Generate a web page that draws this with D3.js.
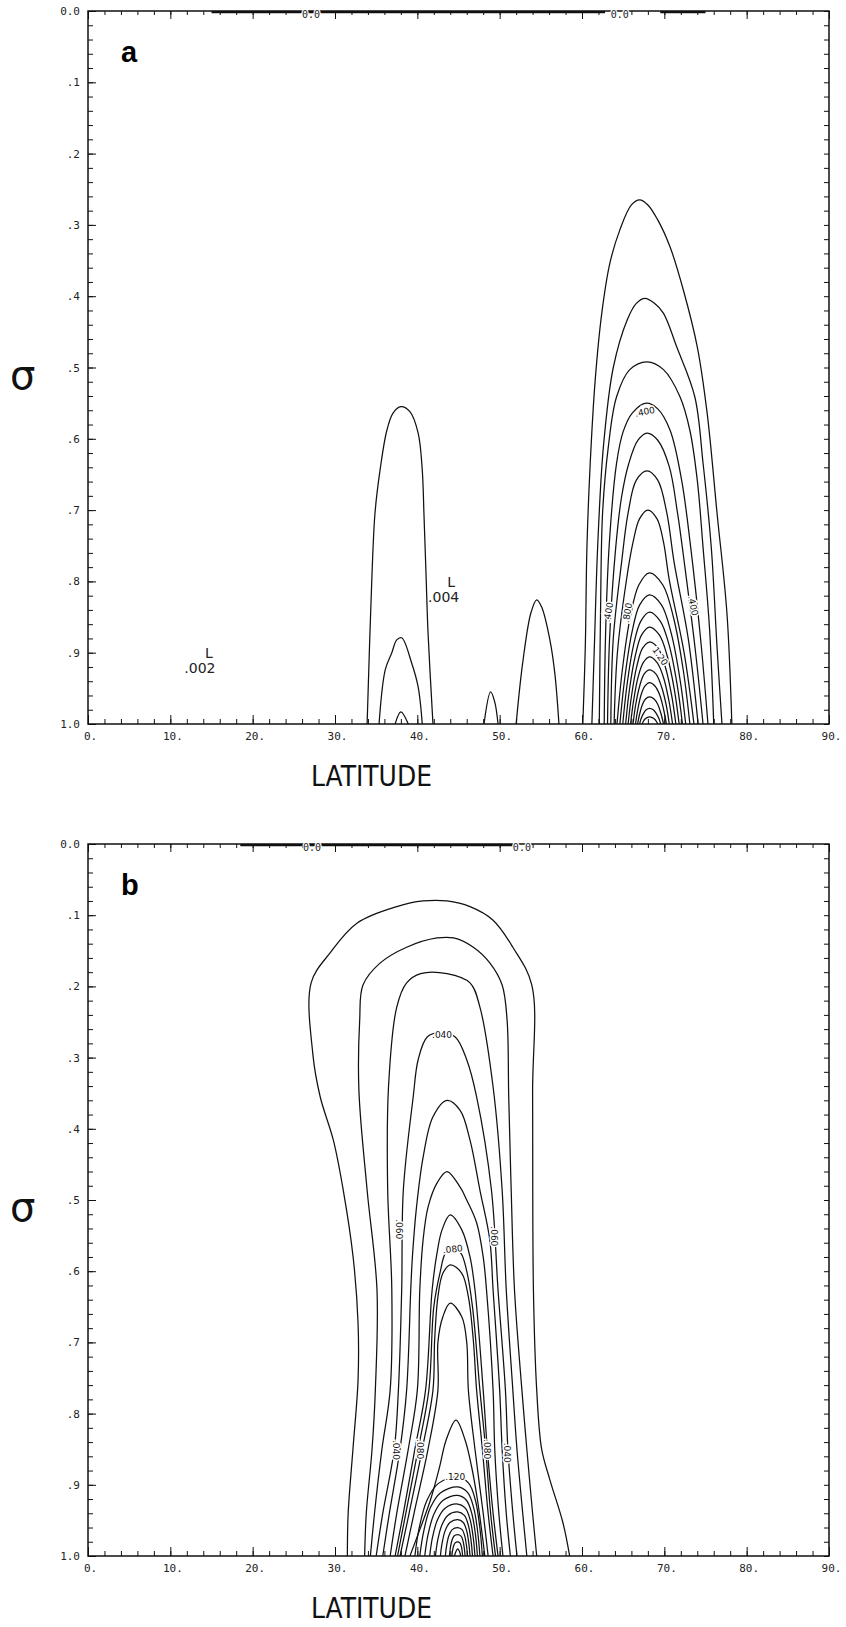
<!DOCTYPE html>
<html><head><meta charset="utf-8">
<script src="https://cdn.jsdelivr.net/npm/d3@7"></script>
<style>body{margin:0;background:#fff}svg{display:block}</style>
</head><body>
<script>
// ---------- axis data ----------
const latMajor = [0,10,20,30,40,50,60,70,80,90];
const latLabels = ["0.","10.","20.","30.","40.","50.","60.","70.","80.","90."];
const sigmaMajor = [0,0.1,0.2,0.3,0.4,0.5,0.6,0.7,0.8,0.9,1.0];
const sigmaLabels = ["0.0",".1",".2",".3",".4",".5",".6",".7",".8",".9","1.0"];
const latMinorStep = 2, sigmaMinorStep = 0.02;

// ---------- panel a contours: [latitude, sigma] ----------
const aBump38 = [
  [[33.9,1.0],[34.5,0.788],[34.86,0.704],[35.47,0.644],[36.3,0.588],[37.05,0.564],[38.0,0.555],[39.1,0.562],[40.1,0.592],[40.6,0.644],[40.8,0.704],[41.05,0.788],[41.3,0.872],[41.9,1.0]],
  [[35.35,1.0],[36.1,0.924],[36.9,0.9],[37.5,0.882],[38.1,0.879],[39.3,0.914],[40.1,0.948],[40.6,1.0]],
  [[37.3,1.0],[38.0,0.983],[38.9,1.0]]
];
const aBump49 = [
  [[48.1,1.0],[48.9,0.955],[49.4,0.969],[49.8,1.0]]
];
const aBump55 = [
  [[52.0,1.0],[52.8,0.914],[53.8,0.844],[54.5,0.826],[55.1,0.836],[56.1,0.882],[56.7,0.929],[57.2,1.0]]
];
const aBump68 = [
  [[60.1,1.0],[60.4,0.892],[60.6,0.752],[61.0,0.634],[61.6,0.518],[62.4,0.424],[63.4,0.353],[64.6,0.307],[66.0,0.272],[67.0,0.265],[68.0,0.272],[69.2,0.293],[70.7,0.331],[72.3,0.391],[74.0,0.471],[75.2,0.564],[76.4,0.704],[77.6,0.844],[78.2,1.0]],
  [[61.2,1.0],[61.5,0.892],[61.9,0.752],[62.6,0.611],[63.8,0.5],[65.5,0.433],[66.6,0.41],[67.65,0.403],[68.8,0.41],[69.9,0.424],[71.5,0.471],[73.7,0.541],[74.7,0.634],[75.7,0.752],[76.4,0.892],[77.0,1.0]],
  [[62.1,1.0],[62.25,0.844],[62.5,0.704],[63.2,0.611],[64.2,0.541],[65.8,0.503],[67.9,0.492],[69.9,0.503],[71.9,0.541],[73.1,0.588],[74.0,0.658],[74.7,0.752],[75.5,0.868],[76.0,1.0]],
  [[62.7,1.0],[62.85,0.88],[63.3,0.75],[64.2,0.634],[65.0,0.59],[66.1,0.564],[67.8,0.55],[69.2,0.558],[70.7,0.588],[72.1,0.658],[73.2,0.752],[74.4,0.88],[75.3,1.0]],
  [[63.1,1.0],[63.35,0.88],[64.1,0.752],[64.8,0.682],[65.7,0.634],[66.8,0.602],[67.9,0.592],[69.2,0.602],[70.6,0.639],[71.6,0.704],[72.5,0.78],[73.8,0.9],[74.7,1.0]],
  [[63.5,1.0],[63.8,0.88],[64.8,0.774],[65.6,0.704],[66.6,0.658],[67.9,0.645],[69.2,0.658],[70.3,0.704],[71.2,0.774],[72.9,0.88],[74.1,1.0]],
  [[63.9,1.0],[64.3,0.9],[65.4,0.798],[66.2,0.745],[67.0,0.712],[68.0,0.70],[69.1,0.712],[69.9,0.745],[70.6,0.798],[72.4,0.9],[73.6,1.0]],
  [[64.25,1.0],[64.88,0.926],[65.83,0.852],[66.9,0.805],[68.2,0.788],[69.82,0.805],[71.14,0.852],[72.32,0.926],[73.1,1.0]],
  [[64.6,1.0],[65.18,0.937],[66.04,0.873],[67.01,0.833],[68.2,0.819],[69.65,0.833],[70.84,0.873],[71.9,0.937],[72.6,1.0]],
  [[64.95,1.0],[65.47,0.945],[66.25,0.89],[67.13,0.856],[68.2,0.843],[69.52,0.856],[70.6,0.89],[71.56,0.945],[72.2,1.0]],
  [[65.3,1.0],[65.76,0.952],[66.46,0.905],[67.24,0.875],[68.2,0.864],[69.39,0.875],[70.36,0.905],[71.22,0.952],[71.8,1.0]],
  [[65.6,1.0],[66.02,0.96],[66.64,0.92],[67.34,0.894],[68.2,0.885],[69.26,0.894],[70.12,0.92],[70.89,0.96],[71.4,1.0]],
  [[65.9,1.0],[66.27,0.967],[66.82,0.934],[67.44,0.914],[68.2,0.906],[69.12,0.914],[69.88,0.934],[70.55,0.967],[71.0,1.0]],
  [[66.2,1.0],[66.52,0.973],[67.0,0.947],[67.54,0.93],[68.2,0.924],[68.99,0.93],[69.64,0.947],[70.22,0.973],[70.6,1.0]],
  [[66.5,1.0],[66.77,0.98],[67.18,0.959],[67.64,0.947],[68.2,0.942],[68.88,0.947],[69.43,0.959],[69.92,0.98],[70.25,1.0]],
  [[66.75,1.0],[66.98,0.987],[67.33,0.973],[67.72,0.965],[68.2,0.962],[68.76,0.965],[69.22,0.973],[69.63,0.987],[69.9,1.0]],
  [[67.0,1.0],[67.19,0.992],[67.48,0.985],[67.8,0.98],[68.2,0.978],[68.65,0.98],[69.01,0.985],[69.33,0.992],[69.55,1.0]],
  [[67.3,1.0],[67.44,0.9965],[67.66,0.993],[67.9,0.991],[68.2,0.99],[68.53,0.991],[68.8,0.993],[69.04,0.9965],[69.2,1.0]]
];

// ---------- panel b contours ----------
const bBump45 = [
  [[31.5,1.0],[31.6,0.94],[32.2,0.847],[32.8,0.753],[32.8,0.673],[32.2,0.58],[31.0,0.486],[29.8,0.416],[28.2,0.355],[27.3,0.294],[27.1,0.195],[29.4,0.153],[32.7,0.111],[37.5,0.088],[40.7,0.08],[43.6,0.08],[46.4,0.088],[49.2,0.107],[51.6,0.145],[53.9,0.198],[54.0,0.35],[54.1,0.626],[54.5,0.767],[55.1,0.85],[56.1,0.893],[57.7,0.954],[58.5,1.0]],
  [[33.6,1.0],[33.8,0.94],[34.5,0.85],[34.9,0.767],[35.1,0.626],[33.9,0.486],[32.9,0.345],[33.0,0.247],[33.4,0.198],[35.5,0.167],[38.7,0.145],[42.4,0.132],[44.4,0.132],[46.8,0.145],[48.8,0.167],[50.3,0.198],[50.9,0.247],[51.1,0.355],[51.4,0.486],[51.8,0.626],[52.7,0.767],[53.3,0.85],[54.0,0.94],[54.5,1.0]],
  [[34.3,1.0],[34.8,0.94],[35.7,0.85],[36.7,0.767],[36.9,0.626],[36.4,0.486],[36.5,0.341],[37.5,0.229],[38.7,0.195],[40.4,0.182],[43.6,0.182],[46.4,0.195],[47.6,0.229],[49.2,0.341],[50.3,0.486],[50.8,0.626],[51.6,0.767],[52.1,0.85],[52.8,0.94],[53.3,1.0]],
  [[35.0,1.0],[35.8,0.94],[37.2,0.85],[37.7,0.767],[38.1,0.626],[38.3,0.486],[39.5,0.355],[40.1,0.303],[41.2,0.271],[42.8,0.265],[44.6,0.271],[46.0,0.303],[47.2,0.355],[49.0,0.486],[49.8,0.626],[50.7,0.767],[51.0,0.85],[51.6,0.94],[52.1,1.0]],
  [[35.8,1.0],[36.6,0.94],[37.9,0.85],[38.7,0.767],[39.2,0.626],[39.4,0.58],[39.9,0.51],[40.7,0.44],[41.9,0.383],[43.6,0.36],[45.2,0.374],[46.4,0.416],[47.6,0.486],[48.8,0.556],[49.2,0.626],[50.0,0.767],[50.3,0.85],[50.8,0.94],[51.3,1.0]],
  [[36.7,1.0],[37.5,0.94],[38.9,0.85],[40.0,0.767],[40.3,0.626],[40.7,0.556],[41.3,0.51],[42.4,0.476],[43.6,0.46],[45.2,0.482],[46.0,0.5],[47.2,0.532],[48.0,0.58],[48.4,0.626],[49.2,0.767],[49.4,0.85],[49.9,0.94],[50.4,1.0]],
  [[37.3,1.0],[38.3,0.94],[39.7,0.85],[41.0,0.767],[41.8,0.626],[42.4,0.574],[43.0,0.542],[44.0,0.521],[45.4,0.542],[46.4,0.58],[47.0,0.626],[48.0,0.767],[48.5,0.85],[49.2,0.94],[49.8,1.0]],
  [[37.6,1.0],[38.6,0.94],[40.1,0.85],[41.4,0.767],[42.0,0.65],[42.8,0.6],[43.4,0.575],[44.3,0.567],[45.3,0.575],[46.0,0.6],[46.7,0.65],[47.6,0.767],[48.3,0.85],[48.9,0.94],[49.5,1.0]],
  [[37.9,1.0],[39.0,0.94],[40.6,0.85],[41.9,0.767],[42.1,0.697],[42.5,0.636],[43.1,0.603],[44.0,0.591],[45.4,0.603],[46.2,0.636],[46.8,0.697],[47.2,0.767],[47.9,0.85],[48.6,0.94],[49.2,1.0]],
  [[38.5,1.0],[39.6,0.94],[41.3,0.85],[42.5,0.767],[42.5,0.70],[43.1,0.664],[44.0,0.645],[45.4,0.664],[46.0,0.70],[46.2,0.767],[47.0,0.85],[48.0,0.94],[48.6,1.0]],
  [[39.1,1.0],[40.3,0.963],[41.6,0.921],[42.7,0.875],[43.5,0.837],[44.7,0.809],[45.8,0.837],[46.6,0.875],[47.3,0.921],[47.8,0.963],[48.2,1.0]],
  [[39.7,1.0],[40.22,0.961],[41.16,0.922],[42.56,0.898],[44.9,0.889],[46.25,0.898],[47.06,0.922],[47.6,0.961],[47.9,1.0]],
  [[40.3,1.0],[40.76,0.966],[41.59,0.932],[42.83,0.911],[44.9,0.903],[46.12,0.911],[46.84,0.932],[47.33,0.966],[47.6,1.0]],
  [[40.9,1.0],[41.3,0.97],[42.02,0.941],[43.1,0.922],[44.9,0.915],[45.98,0.922],[46.63,0.941],[47.06,0.97],[47.3,1.0]],
  [[41.5,1.0],[41.84,0.974],[42.45,0.949],[43.37,0.933],[44.9,0.927],[45.85,0.933],[46.41,0.949],[46.79,0.974],[47.0,1.0]],
  [[42.2,1.0],[42.47,0.978],[42.96,0.957],[43.69,0.943],[44.9,0.938],[45.71,0.943],[46.2,0.957],[46.52,0.978],[46.7,1.0]],
  [[42.8,1.0],[43.01,0.982],[43.39,0.964],[43.96,0.953],[44.9,0.949],[45.58,0.953],[45.98,0.964],[46.25,0.982],[46.4,1.0]],
  [[43.4,1.0],[43.55,0.986],[43.82,0.972],[44.23,0.963],[44.9,0.96],[45.44,0.963],[45.76,0.972],[45.98,0.986],[46.1,1.0]],
  [[43.9,1.0],[44.0,0.9895],[44.18,0.979],[44.45,0.972],[44.9,0.97],[45.31,0.972],[45.55,0.979],[45.71,0.9895],[45.8,1.0]],
  [[44.2,1.0],[44.27,0.993],[44.4,0.986],[44.59,0.9816],[44.9,0.98],[45.17,0.9816],[45.33,0.986],[45.44,0.993],[45.5,1.0]],
  [[44.5,1.0],[44.6,0.9965],[44.72,0.993],[44.9,0.99],[45.1,0.993],[45.2,0.9965],[45.25,1.0]]
];

// ---------- labels: [text, lat, sigma, rotation] ----------
const aContourLabels = [[".400",67.65,0.562,-12],[".400",63.2,0.843,-80],[".800",65.5,0.844,-80],[".400",73.5,0.834,78],["1.20",69.5,0.905,55]];
const bContourLabels = [[".040",43.0,0.268,0],[".060",37.8,0.541,90],[".060",49.3,0.551,90],[".080",44.3,0.569,-6],[".040",37.4,0.851,90],[".080",40.4,0.850,90],[".080",48.5,0.850,90],[".040",50.9,0.855,90],[".120",44.6,0.889,0]];
const aLowLabels = [["L",14.7,0.907,"middle"],[".002",11.7,0.928,"start"],["L",44.1,0.808,"middle"],[".004",41.3,0.829,"start"]];
const aZeroSegments = [[15,62.8],[69.5,75]];
const aZeroLabels = [27.1,64.6];
const bZeroSegments = [[18.5,51.6]];
const bZeroLabels = [27.2,52.7];

const panels = [
  {letter:"a", top:11, height:713, contours:[aBump38,aBump49,aBump55,aBump68], clabels:aContourLabels, low:aLowLabels, zseg:aZeroSegments, zlab:aZeroLabels},
  {letter:"b", top:844, height:712, contours:[bBump45], clabels:bContourLabels, low:[], zseg:bZeroSegments, zlab:bZeroLabels}
];

const W = 846, H = 1627, left = 88, right = 829;
const svg = d3.select("body").append("svg").attr("width",W).attr("height",H);
const x = d3.scaleLinear().domain([0,90]).range([left,right]);
const monoFont = "'DejaVu Sans Mono', monospace";

panels.forEach((p,pi)=>{
  const y = d3.scaleLinear().domain([0,1]).range([p.top, p.top+p.height]);
  const g = svg.append("g");
  const clipId = "clip"+pi;
  svg.append("clipPath").attr("id",clipId).append("rect")
     .attr("x",left).attr("y",p.top).attr("width",right-left).attr("height",p.height);

  const line = d3.line().x(d=>x(d[0])).y(d=>y(d[1])).curve(d3.curveCatmullRom.alpha(0.5));
  const cg = g.append("g").attr("clip-path",`url(#${clipId})`);
  p.contours.forEach(group=>{
    cg.selectAll(null).data(group).join("path")
      .attr("d",line).attr("fill","none").attr("stroke","#111").attr("stroke-width",1.25);
  });

  // zero contour along the top
  cg.selectAll(null).data(p.zseg).join("line")
    .attr("x1",d=>x(d[0])).attr("x2",d=>x(d[1])).attr("y1",y(0)+1).attr("y2",y(0)+1)
    .attr("stroke","#111").attr("stroke-width",2.6);

  // ticks
  const latMinor = d3.range(0, 90.001, latMinorStep);
  const sigMinor = d3.range(0, 1.0001, sigmaMinorStep);
  const tk = (axis, tr)=>g.append("g").attr("transform",tr).call(axis)
      .call(s=>s.select(".domain").remove())
      .call(s=>s.selectAll(".tick line").attr("stroke","#111").attr("stroke-width",1));
  tk(d3.axisTop(x).tickValues(latMinor).tickSize(-4).tickFormat(""), `translate(0,${y(0)})`);
  tk(d3.axisTop(x).tickValues(latMajor).tickSize(-8).tickFormat(""), `translate(0,${y(0)})`);
  tk(d3.axisBottom(x).tickValues(latMinor).tickSize(-5).tickFormat(""), `translate(0,${y(1)})`);
  const bx = tk(d3.axisBottom(x).tickValues(latMajor).tickSize(-9).tickPadding(12).tickFormat((d,i)=>latLabels[i]), `translate(0,${y(1)})`);
  bx.selectAll("text").attr("font-family",monoFont).attr("font-size",11).attr("fill","#222").attr("dy","0.4em").attr("dx","2");
  tk(d3.axisLeft(y).tickValues(sigMinor).tickSize(-5).tickFormat(""), `translate(${left},0)`);
  const ly = tk(d3.axisLeft(y).tickValues(sigmaMajor).tickSize(-8).tickPadding(8).tickFormat((d,i)=>sigmaLabels[i]), `translate(${left},0)`);
  ly.selectAll("text").attr("font-family",monoFont).attr("font-size",11).attr("fill","#222");
  tk(d3.axisRight(y).tickValues(sigMinor).tickSize(-5).tickFormat(""), `translate(${right},0)`);

  // frame
  g.append("rect").attr("x",left).attr("y",p.top).attr("width",right-left).attr("height",p.height)
    .attr("fill","none").attr("stroke","#111").attr("stroke-width",1.5);

  // zero labels
  g.selectAll(null).data(p.zlab).join("text")
    .attr("x",d=>x(d)).attr("y",y(0)+7).attr("text-anchor","middle")
    .attr("font-family",monoFont).attr("font-size",10).attr("fill","#222")
    .attr("stroke","#fff").attr("stroke-width",2.5).attr("paint-order","stroke")
    .text("0.0");

  // contour labels
  g.selectAll(null).data(p.clabels).join("text")
    .attr("transform",d=>`translate(${x(d[1])},${y(d[2])}) rotate(${d[3]})`)
    .attr("text-anchor","middle").attr("dy","0.35em")
    .attr("font-family","'DejaVu Sans', sans-serif").attr("font-size",9).attr("fill","#111")
    .attr("stroke","#fff").attr("stroke-width",3).attr("paint-order","stroke")
    .text(d=>d[0]);

  // L / minimum labels
  g.selectAll(null).data(p.low).join("text")
    .attr("x",d=>x(d[1])).attr("y",d=>y(d[2])).attr("text-anchor",d=>d[3])
    .attr("font-family","'DejaVu Sans', sans-serif").attr("font-size",14).attr("fill","#222")
    .text(d=>d[0]);

  // panel letter
  g.append("text").attr("x",121).attr("y",p.top+51).attr("font-family","'Liberation Sans', Arial, sans-serif")
    .attr("font-weight","bold").attr("font-size",29).attr("fill","#000").text(p.letter);

  // sigma axis title
  g.append("text").attr("x",10).attr("y",y(0.53)).attr("font-family","'DejaVu Sans', sans-serif")
    .attr("font-size",40).attr("fill","#111").text("σ");

  // latitude title
  g.append("text").attr("x",311).attr("y",p.top+p.height+62).attr("font-family","'DejaVu Sans', sans-serif")
    .attr("font-size",29).attr("fill","#111").attr("textLength",121).attr("lengthAdjust","spacingAndGlyphs")
    .text("LATITUDE");
});
</script>
</body></html>
